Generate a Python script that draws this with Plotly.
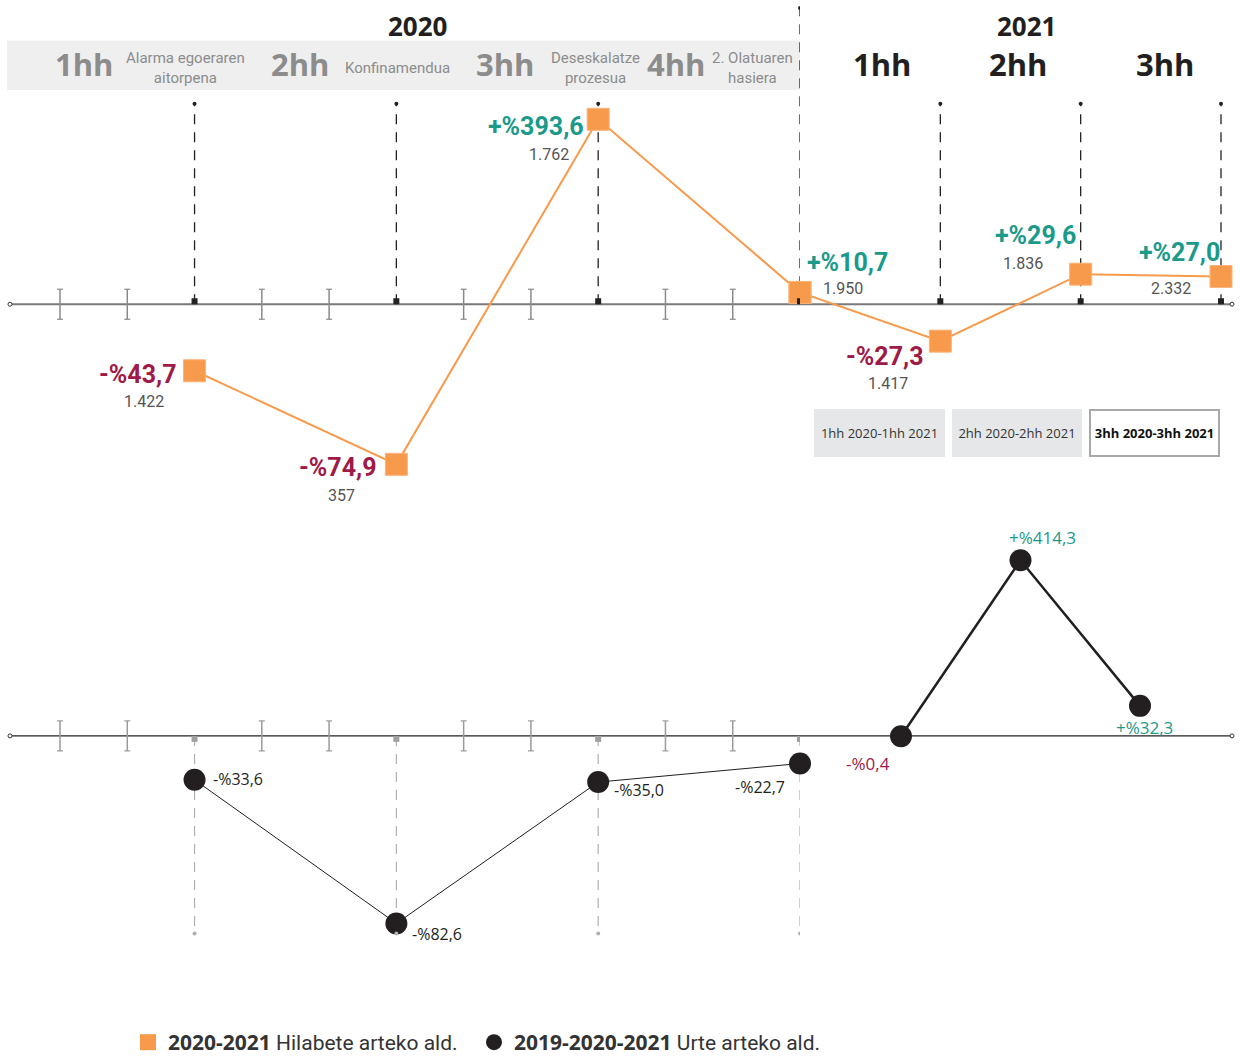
import numpy as np
import plotly.graph_objects as go

W, H = 1241, 1063

# ---------------- data ----------------
years = ["2020", "2021"]
quarters_2020 = ["1hh", "2hh", "3hh", "4hh"]
quarters_2021 = ["1hh", "2hh", "3hh"]
events_2020 = ["Alarma egoeraren<br>aitorpena", "Konfinamendua",
               "Deseskalatze<br>prozesua", "2. Olatuaren<br>hasiera"]
qoq_change_2020 = [-43.7, -74.9, 393.6, 10.7]      # % change vs previous quarter
qoq_change_2021 = [-27.3, 29.6, 27.0]
counts_2020 = [1422, 357, 1762, 1950]
counts_2021 = [1417, 1836, 2332]
yoy_change_2020 = [-33.6, -82.6, -35.0, -22.7]      # % change vs same quarter 2019
yoy_compare_2021 = ["1hh 2020-1hh 2021", "2hh 2020-2hh 2021", "3hh 2020-3hh 2021"]
yoy_change_2021 = [-0.4, 414.3, 32.3]                # % change vs same quarter 2020
legend_labels = ["2020-2021", "2019-2020-2021"]
legend_texts = ["Hilabete arteko ald.", "Urte arteko ald."]

# ---------------- styles ----------------
ORANGE = "#f89a4b"
BLACK = "#231f20"
TEAL = "#1b9a8a"
CRIMSON = "#9e1a47"
GREY_TXT = "#555555"
HUM = "Open Sans, Noto Sans, sans-serif"
NARROW = "Roboto, Liberation Sans Narrow, sans-serif"


def xp(px):
    return px / W


def yp(py):
    return 1 - py / H


def pct(v):
    s = "+" if v > 0 else "-"
    return (s + "%" + f"{abs(v):.1f}").replace(".", ",")


def cnt(c):
    return f"{c:,}".replace(",", ".")


def ratio(vals):
    return [1 + v / 100 for v in vals]


# time coordinates (month of quarter end)
months_2020 = [3 * (i + 1) for i in range(len(quarters_2020))]
months_2021 = [12 + 3 * (i + 1) for i in range(len(quarters_2021))]
minor_months = [m for m in range(1, 12) if m % 3 != 0]

# ---------------- layout geometry (pixels) ----------------
PXM1 = (800 - 60) / 11          # px per month, 2020
PXM2 = (1221 - 800) / 9         # px per month, 2021
X_SPLIT = 800
BASE_UP, DEC_UP, TOP_UP, BOT_UP = 308, 270, 95, 500
BASE_LO, DEC_LO, TOP_LO, BOT_LO = 745, 250, 515, 960
CAT0, CAT2 = 901, 1140
CATW = (CAT2 - CAT0) / 2

fig = go.Figure()

# upper: quarter-on-quarter change (orange squares)
fig.add_trace(go.Scatter(
    x=months_2020, y=ratio(qoq_change_2020), xaxis="x", yaxis="y",
    mode="lines+markers", line=dict(color=ORANGE, width=2),
    marker=dict(symbol="square", size=22, color=ORANGE, line=dict(color="#fbb37a", width=1)),
    cliponaxis=False, showlegend=False, hoverinfo="skip"))
fig.add_trace(go.Scatter(
    x=[months_2020[-1]] + months_2021,
    y=ratio([qoq_change_2020[-1]] + qoq_change_2021), xaxis="x2", yaxis="y",
    mode="lines+markers", line=dict(color=ORANGE, width=2),
    marker=dict(symbol="square", size=22, color=ORANGE, line=dict(color="#fbb37a", width=1)),
    cliponaxis=False, showlegend=False, hoverinfo="skip"))

# lower: year-on-year change (black circles)
fig.add_trace(go.Scatter(
    x=months_2020, y=ratio(yoy_change_2020), xaxis="x", yaxis="y2",
    mode="lines+markers", line=dict(color=BLACK, width=1),
    marker=dict(symbol="circle", size=22, color=BLACK),
    cliponaxis=False, showlegend=False, hoverinfo="skip"))
fig.add_trace(go.Scatter(
    x=yoy_compare_2021, y=ratio(yoy_change_2021), xaxis="x3", yaxis="y2",
    mode="lines+markers", line=dict(color=BLACK, width=2.5),
    marker=dict(symbol="circle", size=22, color=BLACK),
    cliponaxis=False, showlegend=False, hoverinfo="skip"))

# legend-only traces
fig.add_trace(go.Scatter(
    x=[None], y=[None], mode="markers",
    marker=dict(symbol="square", size=22, color=ORANGE),
    name=f"<span style='font-family:Open Sans'><b>{legend_labels[0]}</b></span> {legend_texts[0]}"))
fig.add_trace(go.Scatter(
    x=[None], y=[None], mode="markers",
    marker=dict(symbol="circle", size=22, color=BLACK),
    name=f"<span style='font-family:Open Sans'><b>{legend_labels[1]}</b></span> {legend_texts[1]}"))

# ---------------- shapes ----------------
shapes = []
# header band
shapes.append(dict(type="rect", xref="paper", yref="paper", x0=xp(7), x1=xp(X_SPLIT),
                   y0=yp(91), y1=yp(41), fillcolor="#efefef", line=dict(width=0), layer="below"))
# baselines
shapes.append(dict(type="line", xref="paper", yref="paper", x0=xp(10), x1=xp(1232),
                   y0=yp(BASE_UP), y1=yp(BASE_UP), line=dict(color="#7a7a7a", width=2), layer="below"))
shapes.append(dict(type="line", xref="paper", yref="paper", x0=xp(10), x1=xp(1232),
                   y0=yp(BASE_LO), y1=yp(BASE_LO), line=dict(color="#222222", width=1.3), layer="below"))
for bx in (10, 1232):
    for by in (BASE_UP, BASE_LO):
        shapes.append(dict(type="circle", xref="paper", yref="paper", xsizemode="pixel", ysizemode="pixel",
                           xanchor=xp(bx), yanchor=yp(by), x0=-2, x1=2, y0=-2, y1=2,
                           fillcolor="white", line=dict(color="#333333", width=1)))

# I-shaped minor month ticks
for base, col in ((BASE_UP, "#8a8a8a"), (BASE_LO, "#9a9a9a")):
    for m in minor_months:
        shapes.append(dict(type="line", xref="x", yref="paper", ysizemode="pixel", yanchor=yp(base),
                           x0=m, x1=m, y0=-15, y1=15, line=dict(color=col, width=1.5), layer="below"))
        for yy in (-15, 15):
            shapes.append(dict(type="line", xref="x", xsizemode="pixel", xanchor=m, x0=-3, x1=3,
                               yref="paper", ysizemode="pixel", yanchor=yp(base), y0=yy, y1=yy,
                               line=dict(color=col, width=1.2), layer="below"))

# upper dashed quarter guides
upper_guides = [("x", m, 105) for m in months_2020[:-1]] + [("x", months_2020[-1], 8)] + \
               [("x2", m, 105) for m in months_2021]
for xr, m, top in upper_guides:
    shapes.append(dict(type="line", xref=xr, yref="paper", x0=m, x1=m, y0=yp(BASE_UP), y1=yp(top),
                       line=dict(color="#222222", width=1.3, dash="10px,8px"), layer="below"))
    shapes.append(dict(type="circle", xref=xr, xsizemode="pixel", xanchor=m, x0=-2, x1=2,
                       yref="paper", ysizemode="pixel", yanchor=yp(top), y0=-2, y1=2,
                       fillcolor="#222222", line=dict(width=0)))
    shapes.append(dict(type="rect", xref=xr, xsizemode="pixel", xanchor=m, x0=-3, x1=3,
                       yref="paper", ysizemode="pixel", yanchor=yp(BASE_UP), y0=0, y1=6,
                       fillcolor="#222222", line=dict(width=0)))

# lower dashed quarter guides (2020)
for m in months_2020:
    shapes.append(dict(type="line", xref="x", yref="paper", x0=m, x1=m, y0=yp(BASE_LO), y1=yp(945),
                       line=dict(color="#b0b0b0", width=1.2, dash="10px,8px"), layer="below"))
    shapes.append(dict(type="circle", xref="x", xsizemode="pixel", xanchor=m, x0=-2, x1=2,
                       yref="paper", ysizemode="pixel", yanchor=yp(945), y0=-2, y1=2,
                       fillcolor="#b0b0b0", line=dict(width=0)))
    shapes.append(dict(type="rect", xref="x", xsizemode="pixel", xanchor=m, x0=-3, x1=3,
                       yref="paper", ysizemode="pixel", yanchor=yp(BASE_LO), y0=-6, y1=0,
                       fillcolor="#a0a0a0", line=dict(width=0)))

# ---------------- annotations ----------------
ann = []


def pa(text, x, y, size, color, family, xanchor="center"):
    ann.append(dict(text=text, xref="paper", yref="paper", x=xp(x), y=yp(y), showarrow=False,
                    xanchor=xanchor, yanchor="middle", font=dict(size=size, color=color, family=family)))


# years
pa(f"<b>{years[0]}</b>", 417, 26, 26, BLACK, HUM)
pa(f"<b>{years[1]}</b>", 1026, 26, 26, BLACK, HUM)
# 2020 quarters + events
q_x = [84, 300, 505, 676]
e_x = [186, 397, 595, 752]
for q, e, qx, ex in zip(quarters_2020, events_2020, q_x, e_x):
    pa(f"<b>{q}</b>", qx, 65, 31, "#8c8c8c", HUM)
    pa(e, ex, 69, 15, "#8c8c8c", NARROW)
for q, qx in zip(quarters_2021, [882, 1018, 1165]):
    pa(f"<b>{q}</b>", qx, 65, 31, BLACK, HUM)


def da(text, xr, yr, x, y, size, color, family, xanchor, xs, ys):
    ann.append(dict(text=text, xref=xr, yref=yr, x=x, y=y, showarrow=False, xanchor=xanchor,
                    yanchor="middle", xshift=xs, yshift=ys,
                    font=dict(size=size, color=color, family=family)))


# upper labels
up_pct_off = [("right", -16, -4), ("right", -17, -3), ("right", -12, -7), ("left", 5, 30),
              ("right", -14, -15), ("right", -3, 39), ("right", 1, 24)]
up_cnt_off = [(-51, -31), (-55, -31), (-49, -35), (43, 4), (-52, -42), (-58, 11), (-50, -12)]
up_x = [("x", m) for m in months_2020] + [("x2", m) for m in months_2021]
up_v = qoq_change_2020 + qoq_change_2021
up_c = counts_2020 + counts_2021
for (xr, m), v, c, (xa, xs, ys), (cxs, cys) in zip(up_x, up_v, up_c, up_pct_off, up_cnt_off):
    ly = float(np.log10(1 + v / 100))
    da(f"<b>{pct(v)}</b>", xr, "y", m, ly, 25, TEAL if v > 0 else CRIMSON, NARROW, xa, xs, ys)
    da(cnt(c), xr, "y", m, ly, 16, GREY_TXT, NARROW, "center", cxs, cys)

# lower labels
lo_off = [("left", 16, 1), ("left", 14, -11), ("left", 14, -8), ("right", -13, -23)]
for m, v, (xa, xs, ys) in zip(months_2020, yoy_change_2020, lo_off):
    da(pct(v), "x", "y2", m, float(np.log10(1 + v / 100)), 16, BLACK, HUM, xa, xs, ys)
lo_off21 = [(-33, -27), (22, 23), (4, -22)]
for cat, v, (xs, ys) in zip(yoy_compare_2021, yoy_change_2021, lo_off21):
    da(pct(v), "x3", "y2", cat, float(np.log10(1 + v / 100)), 17, TEAL if v > 0 else CRIMSON, HUM,
       "center", xs, ys)

# comparison "buttons"
btn_x = [880, 1017, 1154]
btn_w = [131, 130, 131]
for i, (lab, bx, bw) in enumerate(zip(yoy_compare_2021, btn_x, btn_w)):
    active = i == len(yoy_compare_2021) - 1
    ann.append(dict(text=f"<b>{lab}</b>" if active else lab, xref="paper", yref="paper",
                    x=xp(bx), y=yp(438), showarrow=False, xanchor="center", yanchor="middle",
                    width=bw - (4 if active else 0), height=48 - (4 if active else 0),
                    bgcolor="white" if active else "#e6e7e8",
                    bordercolor="#a7a9ac" if active else "#e6e7e8",
                    borderwidth=2 if active else 0, borderpad=0,
                    font=dict(size=13, color="#111111" if active else "#333333", family=HUM)))

# ---------------- layout ----------------
fig.update_layout(
    width=W, height=H, margin=dict(l=0, r=0, t=0, b=0),
    paper_bgcolor="white", plot_bgcolor="rgba(0,0,0,0)",
    xaxis=dict(domain=[0, xp(X_SPLIT)], range=[1 - 60 / PXM1, 12], visible=False, anchor="y"),
    xaxis2=dict(domain=[xp(X_SPLIT), 1], range=[12, 12 + (W - X_SPLIT) / PXM2], visible=False, anchor="y"),
    xaxis3=dict(domain=[xp(CAT0 - CATW / 2), xp(CAT2 + CATW / 2)], range=[-0.5, 2.5], type="category",
                visible=False, anchor="y2"),
    yaxis=dict(domain=[yp(BOT_UP), yp(TOP_UP)], type="log",
               range=[-(BOT_UP - BASE_UP) / DEC_UP, (BASE_UP - TOP_UP) / DEC_UP], visible=False, anchor="x"),
    yaxis2=dict(domain=[yp(BOT_LO), yp(TOP_LO)], type="log",
                range=[-(BOT_LO - BASE_LO) / DEC_LO, (BASE_LO - TOP_LO) / DEC_LO], visible=False, anchor="x"),
    shapes=shapes, annotations=ann,
    showlegend=True,
    legend=dict(orientation="h", x=xp(128), y=yp(1035), xanchor="left", yanchor="top",
                font=dict(size=21, color="#333333", family=NARROW), itemsizing="trace",
                bgcolor="rgba(0,0,0,0)", entrywidth=301),
)

post = ("document.body.style.margin='0';document.body.style.overflow='hidden';"
        "var d=document.getElementsByClassName('plotly-graph-div')[0];"
        "d.style.position='fixed';d.style.left='0px';d.style.top='0px';")
fig.write_html("out.html", config={"displayModeBar": False}, post_script=post)
